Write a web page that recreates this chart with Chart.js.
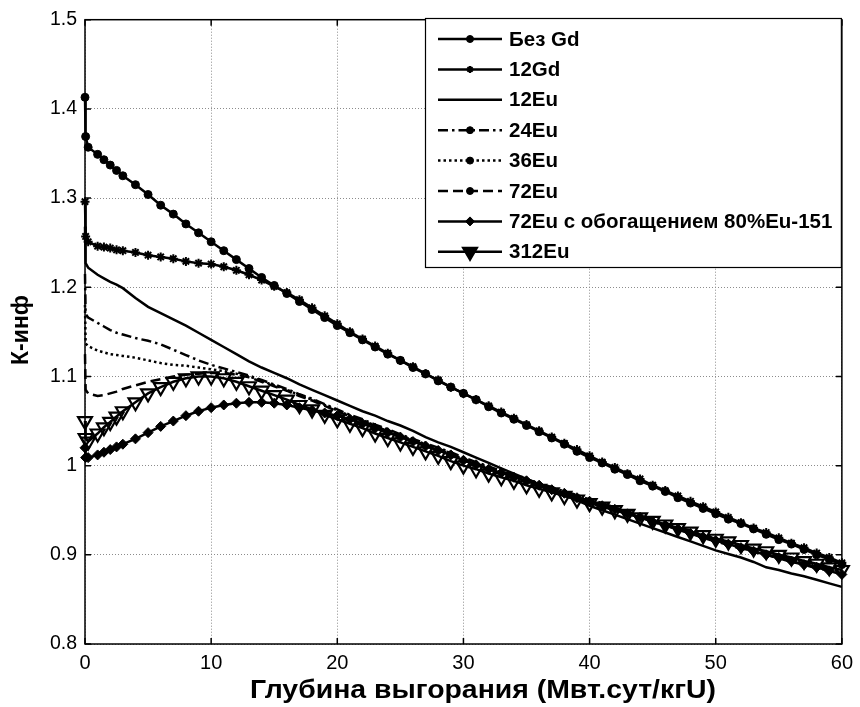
<!DOCTYPE html>
<html lang="ru">
<head>
<meta charset="UTF-8" />
<title>К-инф</title>
<script src="https://cdn.jsdelivr.net/npm/chart.js@4.4.1/dist/chart.umd.min.js"></script>
<style>
  html, body { margin: 0; padding: 0; background: #fff; }
  #wrap { width: 860px; height: 707px; position: relative; }
</style>
</head>
<body>
<div id="wrap"><canvas id="kinfChart"></canvas></div>

<script>
  // Глубина выгорания, МВт.сут/кгU
  const burnup = [0, 0.05, 0.25, 1, 1.5, 2, 2.5, 3,
    4, 5, 6, 7, 8, 9, 10, 11, 12, 13,
    14, 15, 16, 17, 18, 19, 20, 21, 22, 23,
    24, 25, 26, 27, 28, 29, 30, 31, 32, 33,
    34, 35, 36, 37, 38, 39, 40, 41, 42, 43,
    44, 45, 46, 47, 48, 49, 50, 51, 52, 53,
    54, 55, 56, 57, 58, 59, 60];

  const bezGd = [1.413, 1.369, 1.357, 1.349, 1.343, 1.337, 1.331, 1.325,
    1.315, 1.304, 1.292, 1.282, 1.271, 1.261, 1.251, 1.241, 1.231, 1.221,
    1.211, 1.202, 1.193, 1.184, 1.175, 1.166, 1.157, 1.149, 1.141, 1.133,
    1.125, 1.118, 1.110, 1.103, 1.095, 1.088, 1.081, 1.074, 1.066, 1.059,
    1.052, 1.045, 1.038, 1.031, 1.024, 1.016, 1.009, 1.003, 0.996, 0.990,
    0.983, 0.977, 0.971, 0.964, 0.958, 0.952, 0.946, 0.940, 0.935, 0.929,
    0.923, 0.917, 0.912, 0.906, 0.900, 0.895, 0.889];

  const gd12 = [1.296, 1.257, 1.251, 1.246, 1.245, 1.244, 1.242, 1.241,
    1.239, 1.236, 1.234, 1.232, 1.229, 1.227, 1.226, 1.223, 1.219, 1.214,
    1.208, 1.201, 1.194, 1.186, 1.177, 1.168, 1.159, 1.150, 1.142, 1.134,
    1.126, 1.118, 1.111, 1.103, 1.096, 1.088, 1.081, 1.074, 1.067, 1.060,
    1.053, 1.046, 1.039, 1.032, 1.025, 1.018, 1.011, 1.004, 0.998, 0.991,
    0.985, 0.978, 0.972, 0.966, 0.960, 0.954, 0.948, 0.942, 0.936, 0.930,
    0.925, 0.919, 0.913, 0.908, 0.902, 0.897, 0.891];

  const eu12 = [1.268, 1.227, 1.222, 1.214, 1.210, 1.206, 1.203, 1.199,
    1.188, 1.178, 1.171, 1.164, 1.157, 1.149, 1.141, 1.133, 1.125, 1.117,
    1.110, 1.104, 1.098, 1.091, 1.085, 1.079, 1.073, 1.067, 1.061, 1.056,
    1.050, 1.045, 1.039, 1.032, 1.026, 1.021, 1.015, 1.009, 1.003, 0.997,
    0.991, 0.985, 0.979, 0.973, 0.967, 0.961, 0.955, 0.950, 0.945, 0.940,
    0.935, 0.930, 0.925, 0.920, 0.915, 0.910, 0.905, 0.901, 0.897, 0.892,
    0.886, 0.883, 0.879, 0.876, 0.872, 0.868, 0.864];

  const eu24 = [1.215, 1.170, 1.166, 1.160, 1.156, 1.152, 1.149, 1.147,
    1.143, 1.140, 1.136, 1.130, 1.124, 1.118, 1.113, 1.109, 1.105, 1.101,
    1.096, 1.091, 1.086, 1.080, 1.075, 1.069, 1.063, 1.057, 1.052, 1.046,
    1.041, 1.035, 1.030, 1.025, 1.020, 1.015, 1.009, 1.004, 0.999, 0.994,
    0.990, 0.985, 0.980, 0.976, 0.971, 0.967, 0.962, 0.958, 0.953, 0.949,
    0.944, 0.940, 0.936, 0.931, 0.927, 0.922, 0.918, 0.914, 0.910, 0.906,
    0.903, 0.899, 0.895, 0.892, 0.888, 0.885, 0.881];

  const eu36 = [1.180, 1.137, 1.134, 1.129, 1.127, 1.125, 1.124, 1.123,
    1.121, 1.118, 1.115, 1.113, 1.112, 1.110, 1.108, 1.106, 1.103, 1.100,
    1.095, 1.090, 1.085, 1.079, 1.074, 1.068, 1.062, 1.056, 1.051, 1.045,
    1.040, 1.034, 1.029, 1.024, 1.019, 1.014, 1.007, 1.002, 0.997, 0.992,
    0.988, 0.983, 0.978, 0.974, 0.969, 0.965, 0.960, 0.956, 0.951, 0.947,
    0.942, 0.938, 0.934, 0.929, 0.925, 0.920, 0.916, 0.912, 0.908, 0.904,
    0.901, 0.897, 0.893, 0.890, 0.886, 0.883, 0.879];

  const eu72 = [1.125, 1.085, 1.081, 1.078, 1.079, 1.081, 1.083, 1.086,
    1.090, 1.094, 1.097, 1.100, 1.102, 1.103, 1.104, 1.104, 1.102, 1.099,
    1.094, 1.089, 1.084, 1.078, 1.073, 1.067, 1.061, 1.055, 1.050, 1.044,
    1.039, 1.033, 1.028, 1.023, 1.018, 1.013, 1.006, 1.001, 0.996, 0.991,
    0.987, 0.982, 0.977, 0.973, 0.968, 0.964, 0.959, 0.955, 0.950, 0.946,
    0.941, 0.937, 0.933, 0.928, 0.924, 0.919, 0.915, 0.911, 0.907, 0.903,
    0.900, 0.896, 0.892, 0.889, 0.885, 0.882, 0.878];

  const eu72enr = [1.020, 1.009, 1.009, 1.012, 1.015, 1.018, 1.021, 1.024,
    1.030, 1.037, 1.044, 1.050, 1.056, 1.061, 1.065, 1.068, 1.070, 1.071,
    1.071, 1.070, 1.068, 1.065, 1.062, 1.059, 1.056, 1.052, 1.047, 1.042,
    1.037, 1.032, 1.027, 1.022, 1.017, 1.012, 1.006, 1.001, 0.996, 0.992,
    0.987, 0.983, 0.978, 0.973, 0.969, 0.964, 0.960, 0.955, 0.951, 0.946,
    0.942, 0.937, 0.933, 0.929, 0.924, 0.920, 0.916, 0.912, 0.908, 0.904,
    0.900, 0.897, 0.893, 0.889, 0.886, 0.882, 0.878];

  const eu312 = [1.050, 1.031, 1.027, 1.036, 1.043, 1.049, 1.055, 1.061,
    1.071, 1.081, 1.088, 1.094, 1.098, 1.100, 1.100, 1.098, 1.094, 1.089,
    1.084, 1.079, 1.074, 1.068, 1.063, 1.057, 1.052, 1.047, 1.042, 1.036,
    1.031, 1.026, 1.021, 1.016, 1.011, 1.005, 1.000, 0.996, 0.991, 0.987,
    0.983, 0.978, 0.974, 0.970, 0.966, 0.962, 0.958, 0.954, 0.950, 0.946,
    0.942, 0.938, 0.934, 0.930, 0.926, 0.922, 0.918, 0.915, 0.911, 0.907,
    0.904, 0.900, 0.897, 0.893, 0.890, 0.886, 0.883];

  const seriesNames = ['Без Gd', '12Gd', '12Eu', '24Eu', '36Eu', '72Eu',
    '72Eu с обогащением 80%Eu-151', '312Eu'];
  const seriesValues = [bezGd, gd12, eu12, eu24, eu36, eu72, eu72enr, eu312];

  const xTitle = 'Глубина выгорания (Мвт.сут/кгU)';
  const yTitle = 'К-инф';
  const FONT = '"Liberation Sans", Arial, Helvetica, sans-serif';

  // стиль линий как в исходном рисунке (всё чёрное)
  const styles = [
    { dash: [], point: 'circle', r: 4, fill: '#000', pw: 1, lgR: 3.5 },
    { dash: [], point: 'star', r: 4.5, fill: '#000', pw: 2, lgR: 3.5 },
    { dash: [], point: false, r: 0, lgR: 0 },
    { dash: [10, 4, 2.5, 4], point: false, r: 0, lgPoint: 'circle', lgR: 3.5 },
    { dash: [2.5, 3], point: false, r: 0, lgPoint: 'circle', lgR: 3.5 },
    { dash: [10, 5], point: false, r: 0, lgPoint: 'circle', lgR: 3.5 },
    { dash: [], point: 'rectRot', r: 5, fill: '#000', pw: 1, lgR: 4.5 },
    { dash: [], point: 'triangle', rot: 180, r: 8, fill: 'rgba(0,0,0,0)', pw: 2.2, lgR: 8, lgFill: '#000' }
  ];

  const datasets = seriesValues.map((vals, i) => {
    const s = styles[i];
    return {
      label: seriesNames[i],
      data: burnup.map((x, k) => ({ x: x, y: vals[k] })),
      borderColor: '#000',
      borderWidth: 2.5,
      borderDash: s.dash,
      pointStyle: s.point || 'circle',
      pointRadius: s.r,
      pointRotation: s.rot || 0,
      pointBackgroundColor: s.fill || '#000',
      pointBorderColor: '#000',
      pointBorderWidth: s.pw || 1,
      tension: 0,
      clip: false,
      order: seriesNames.length - i
    };
  });

  // рамка, внутренние засечки, легенда и подписи осей
  const decorPlugin = {
    id: 'decor',
    afterDatasetsDraw(chart) {
      const ctx = chart.ctx;
      const a = chart.chartArea;
      const xs = chart.scales.x, ys = chart.scales.y;
      ctx.save();
      ctx.strokeStyle = '#000';
      ctx.lineWidth = 1.5;
      ctx.setLineDash([]);
      ctx.strokeRect(a.left, a.top, a.right - a.left, a.bottom - a.top);
      ctx.beginPath();
      xs.ticks.forEach(t => {
        const px = xs.getPixelForValue(t.value);
        ctx.moveTo(px, a.bottom); ctx.lineTo(px, a.bottom - 6);
        ctx.moveTo(px, a.top); ctx.lineTo(px, a.top + 6);
      });
      ys.ticks.forEach(t => {
        const py = ys.getPixelForValue(t.value);
        ctx.moveTo(a.left, py); ctx.lineTo(a.left + 6, py);
        ctx.moveTo(a.right, py); ctx.lineTo(a.right - 6, py);
      });
      ctx.stroke();

      // легенда
      const bx = 425, by = 18, bw = a.right - 425, bh = 250;
      ctx.fillStyle = '#fff';
      ctx.fillRect(bx, by, bw, bh);
      ctx.lineWidth = 1.2;
      ctx.strokeRect(bx + 0.5, by + 0.5, bw - 1, bh - 1);
      ctx.font = 'bold 20.5px ' + FONT;
      ctx.textBaseline = 'middle';
      ctx.textAlign = 'left';
      seriesNames.forEach((name, i) => {
        const s = styles[i];
        const y = 39 + i * 30.4;
        ctx.strokeStyle = '#000';
        ctx.lineWidth = 2.5;
        ctx.setLineDash(s.dash);
        ctx.beginPath();
        ctx.moveTo(438, y); ctx.lineTo(502, y);
        ctx.stroke();
        ctx.setLineDash([]);
        const ps = s.point || s.lgPoint;
        if (ps && s.lgR) {
          ctx.fillStyle = s.lgFill || '#000';
          ctx.lineWidth = s.pw || 1;
          Chart.helpers.drawPoint(ctx, {
            pointStyle: ps, rotation: s.rot || 0, radius: s.lgR, borderWidth: s.pw || 1
          }, 470, y);
        }
        ctx.fillStyle = '#000';
        ctx.fillText(name, 509, y + 1);
      });
      ctx.restore();
    },
    afterDraw(chart) {
      const ctx = chart.ctx;
      ctx.save();
      ctx.fillStyle = '#000';
      ctx.textAlign = 'center';
      ctx.textBaseline = 'middle';
      ctx.font = 'bold 23px ' + FONT;
      ctx.translate(22, 330);
      ctx.rotate(-Math.PI / 2);
      ctx.fillText(yTitle, 0, 0);
      ctx.restore();

      ctx.save();
      ctx.fillStyle = '#000';
      ctx.textAlign = 'center';
      ctx.textBaseline = 'middle';
      ctx.font = 'bold 26px ' + FONT;
      const w = ctx.measureText(xTitle).width;
      const k = 466 / w;
      ctx.translate(483, 691);
      ctx.scale(k, 1);
      ctx.fillText(xTitle, 0, 0);
      ctx.restore();
    }
  };

  new Chart(document.getElementById('kinfChart'), {
    type: 'line',
    data: { datasets: datasets },
    options: {
      responsive: true,
      maintainAspectRatio: false,
      animation: false,
      devicePixelRatio: 1,
      layout: { padding: { left: 0, right: 13, top: 17, bottom: 0 } },
      plugins: { legend: { display: false }, tooltip: { enabled: false } },
      scales: {
        x: {
          type: 'linear', min: 0, max: 60,
          ticks: { stepSize: 10, color: '#000', font: { family: FONT, size: 20 }, padding: 7, maxRotation: 0 },
          grid: { color: '#8c8c8c', lineWidth: 1, drawTicks: false },
          border: { display: false, dash: [1, 2] },
          afterFit: s => { s.height = 63; }
        },
        y: {
          min: 0.8, max: 1.5,
          ticks: {
            stepSize: 0.1, color: '#000', font: { family: FONT, size: 19.5 }, padding: 8,
            callback: v => String(Math.round(v * 10) / 10)
          },
          grid: { color: '#8c8c8c', lineWidth: 1, drawTicks: false },
          border: { display: false, dash: [1, 2] },
          afterFit: s => { s.width = 85; }
        }
      }
    },
    plugins: [decorPlugin]
  });
</script>
</body>
</html>
